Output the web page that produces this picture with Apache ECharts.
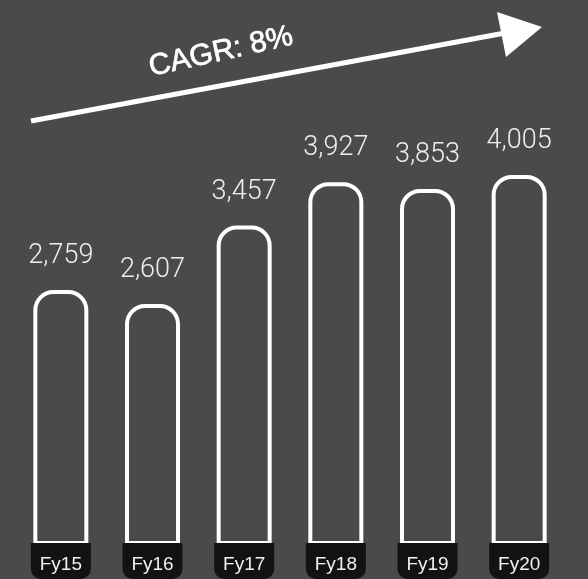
<!DOCTYPE html>
<html>
<head>
<meta charset="utf-8">
<script src="https://cdn.jsdelivr.net/npm/echarts@6/dist/echarts.min.js"></script>
<style>
html,body{margin:0;padding:0;background:#4a4a48;}
#c{width:588px;height:579px;}
</style>
</head>
<body>
<div id="c"></div>
<script>
var categories = ['Fy15', 'Fy16', 'Fy17', 'Fy18', 'Fy19', 'Fy20'];
var revenue = [2759, 2607, 3457, 3927, 3853, 4005];
var cagrText = 'CAGR: 8%';

var BG = '#4a4a48';
var chart = echarts.init(document.getElementById('c'));
chart.setOption({
  backgroundColor: BG,
  animation: false,
  grid: { left: 15, right: 23, top: 83, bottom: 34 },
  xAxis: {
    type: 'category',
    data: categories,
    z: 10,
    axisLine: { show: false },
    axisTick: { show: false },
    axisLabel: {
      margin: -2,
      color: '#f0f0f0',
      fontFamily: 'Liberation Sans, Arial, sans-serif',
      fontSize: 19,
      backgroundColor: '#121212',
      width: 50,
      height: 28,
      lineHeight: 28,
      padding: [8, 5, 0, 5],
      align: 'center',
      verticalAlign: 'top',
      borderRadius: [0, 0, 10, 10]
    }
  },
  yAxis: {
    type: 'value',
    min: 0,
    max: 5000,
    show: false,
    splitLine: { show: false }
  },
  series: [{
    type: 'bar',
    data: revenue,
    barWidth: 55,
    itemStyle: {
      color: BG,
      borderColor: '#ffffff',
      borderWidth: 4,
      borderRadius: [18, 18, 0, 0]
    },
    label: {
      show: true,
      position: 'top',
      distance: 20,
      color: '#eeeeee',
      fontFamily: 'Roboto, sans-serif',
      fontWeight: 300,
      fontSize: 27,
      formatter: function (p) { return p.value.toLocaleString('en-US'); }
    }
  }],
  graphic: [
    {
      type: 'line',
      shape: { x1: 31, y1: 121, x2: 505, y2: 33 },
      style: { stroke: '#ffffff', lineWidth: 5 },
      z: 100
    },
    {
      type: 'polygon',
      shape: { points: [[497, 12], [542, 27], [506, 57]] },
      style: { fill: '#ffffff' },
      z: 100
    },
    {
      type: 'text',
      x: 221,
      y: 52,
      rotation: 12.5 * Math.PI / 180,
      style: {
        text: cagrText,
        x: 0, y: 0,
        align: 'center',
        verticalAlign: 'middle',
        fill: '#ffffff',
        stroke: '#ffffff',
        lineWidth: 0.7,
        font: '30px "Liberation Sans", Arial, sans-serif'
      },
      z: 100
    }
  ]
});
</script>
</body>
</html>
